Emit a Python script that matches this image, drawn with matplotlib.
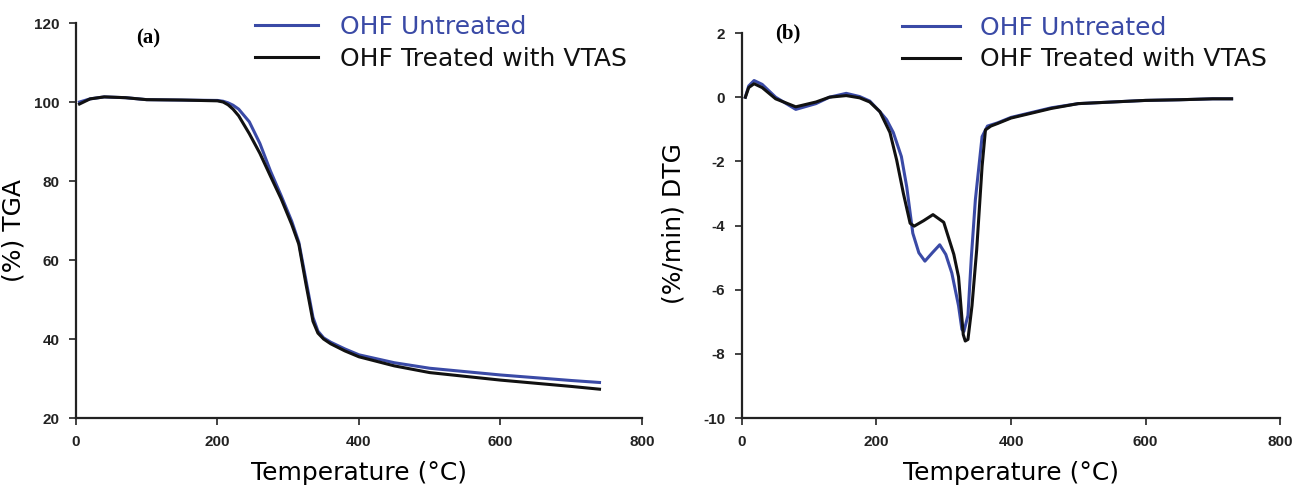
import matplotlib
matplotlib.use("Agg")
from matplotlib import pyplot as plt

plt.rcParams["axes.unicode_minus"] = False

# TGA (panel a)
tga_temp = [5, 20, 40, 70, 100, 150, 200, 208, 215, 222, 230, 245, 260, 275, 290,
            305, 315, 325, 335, 342, 350, 360, 380, 400, 450, 500, 600, 700, 740]
tga_untreated = [100, 100.8, 101.3, 101.1, 100.6, 100.5, 100.4, 100.2, 99.8, 99.2,
                 98.2, 95.0, 89.5, 82.5, 76.3, 69.8, 64.5, 55, 45.5, 42, 40.3, 39.2,
                 37.5, 36, 34, 32.6, 30.9, 29.5, 29]
tga_treated = [99.5, 100.8, 101.3, 101.1, 100.6, 100.5, 100.3, 100, 99.3, 98.2,
               96.5, 92.0, 87.0, 81.2, 75.5, 69, 64, 54, 44.5, 41.5, 40, 38.8, 37,
               35.5, 33.2, 31.5, 29.6, 28, 27.3]

# DTG (panel b)
dtg_temp_u = [5, 10, 18, 30, 50, 80, 110, 130, 155, 175, 190, 205, 215, 225, 237,
              245, 254, 263, 272, 283, 294, 303, 312, 322, 327, 330, 336, 341, 347,
              357, 365, 380, 400, 430, 460, 500, 550, 600, 650, 700, 728]
dtg_untreated = [0.0, 0.35, 0.52, 0.4, 0.0, -0.38, -0.2, 0.0, 0.12, 0.02, -0.12,
                 -0.45, -0.7, -1.1, -1.85, -2.8, -4.24, -4.85, -5.11, -4.85, -4.6,
                 -4.9, -5.48, -6.5, -7.24, -7.3, -6.8, -5.0, -3.2, -1.23, -0.9,
                 -0.8, -0.63, -0.48, -0.33, -0.2, -0.15, -0.1, -0.08, -0.05, -0.05]
dtg_temp_t = [5, 10, 18, 30, 50, 80, 110, 130, 155, 175, 190, 205, 220, 230, 240,
              250, 256, 270, 284, 300, 315, 322, 329, 332, 336, 342, 349, 357, 362,
              370, 380, 400, 430, 460, 500, 550, 600, 650, 700, 728]
dtg_treated = [0.0, 0.3, 0.42, 0.3, -0.05, -0.3, -0.15, 0.0, 0.05, -0.02, -0.15,
               -0.45, -1.1, -1.96, -3.0, -3.93, -4.02, -3.85, -3.66, -3.9, -4.9,
               -5.6, -7.4, -7.6, -7.55, -6.5, -4.75, -2.16, -1.02, -0.9, -0.82,
               -0.65, -0.5, -0.35, -0.2, -0.15, -0.1, -0.08, -0.05, -0.05]

labels = ["OHF Untreated", "OHF Treated with VTAS"]
blue = "#3a4aa6"
black = "#111111"

fig = plt.figure(figsize=(12.94, 4.88), dpi=100)
ax1 = fig.add_axes([0.0587, 0.1434, 0.4374, 0.8094])
ax2 = fig.add_axes([0.5734, 0.1434, 0.4158, 0.7889])


def style(ax):
    for s in ["top", "right"]:
        ax.spines[s].set_visible(False)
    for s in ["left", "bottom"]:
        ax.spines[s].set_linewidth(1.6)
        ax.spines[s].set_color("#222222")
    ax.tick_params(direction="out", length=5, width=1.2, color="#222222",
                   pad=7, labelsize=11, labelcolor="#222222")
    for t in ax.get_xticklabels() + ax.get_yticklabels():
        t.set_fontfamily("Liberation Sans")
        t.set_fontweight("bold")
    ax.set_xlim(0, 800)
    ax.set_xticks([0, 200, 400, 600, 800])
    ax.set_xlabel("Temperature (°C)", fontsize=18, labelpad=9)


# panel a
ax1.plot(tga_temp, tga_untreated, color=blue, lw=2.2, label=labels[0])
ax1.plot(tga_temp, tga_treated, color=black, lw=2.2, label=labels[1])
ax1.set_ylim(20, 120)
ax1.set_yticks([20, 40, 60, 80, 100, 120])
style(ax1)
ax1.set_ylabel("(%) TGA", fontsize=18)
ax1.yaxis.set_label_coords(-0.09, 0.476)
leg1 = ax1.legend(frameon=False, fontsize=18, loc="upper left",
                  bbox_to_anchor=(255 / 1294, 1 - 15 / 488),
                  bbox_transform=fig.transFigure, borderpad=0, borderaxespad=0,
                  handlelength=2.5, handletextpad=0.9, labelspacing=0.3)
for txt, c in zip(leg1.get_texts(), [blue, black]):
    txt.set_color(c)
fig.text(148 / 1294, 1 - 38 / 488, "(a)", family="Liberation Serif",
         fontweight="bold", fontsize=15, ha="center", va="center")

# panel b
ax2.plot(dtg_temp_u, dtg_untreated, color=blue, lw=2.2, label=labels[0])
ax2.plot(dtg_temp_t, dtg_treated, color=black, lw=2.2, label=labels[1])
ax2.set_ylim(-10, 2)
ax2.set_yticks([-10, -8, -6, -4, -2, 0, 2])
style(ax2)
ax2.set_ylabel("(%/min) DTG", fontsize=18)
ax2.yaxis.set_label_coords(-0.105, 0.506)
leg2 = ax2.legend(frameon=False, fontsize=18, loc="upper left",
                  bbox_to_anchor=(902 / 1294, 1 - 16 / 488),
                  bbox_transform=fig.transFigure, borderpad=0, borderaxespad=0,
                  handlelength=2.3, handletextpad=0.8, labelspacing=0.3)
for txt, c in zip(leg2.get_texts(), [blue, black]):
    txt.set_color(c)
fig.text(788 / 1294, 1 - 33 / 488, "(b)", family="Liberation Serif",
         fontweight="bold", fontsize=15, ha="center", va="center")

fig.savefig("out.png", dpi=100)
